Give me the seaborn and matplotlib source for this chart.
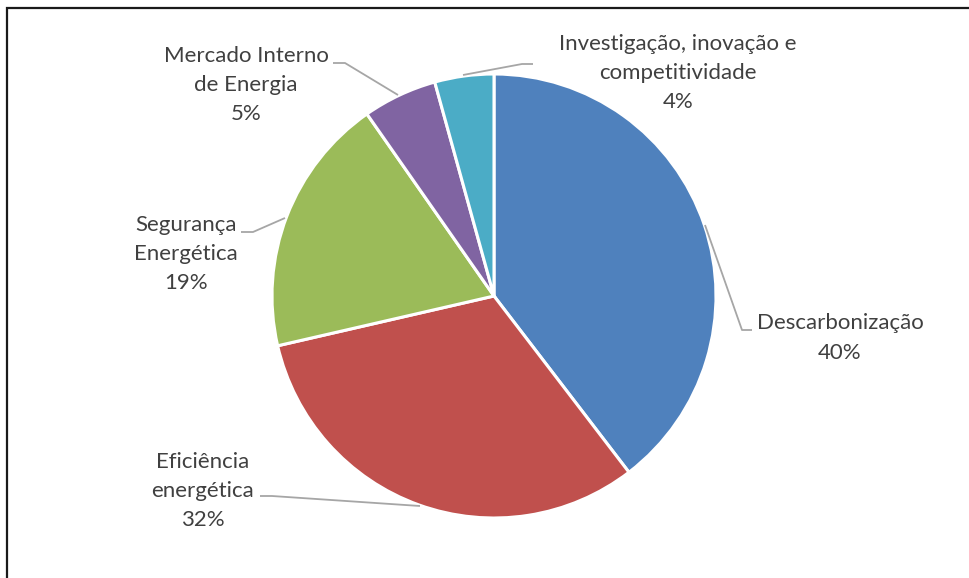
import matplotlib
matplotlib.use("Agg")
import matplotlib.pyplot as plt
import seaborn as sns
from matplotlib.patches import Rectangle

categories = ["Descarbonização", "Eficiência energética", "Segurança Energética",
              "Mercado Interno de Energia", "Investigação, inovação e competitividade"]
values = [39.6, 31.8, 18.9, 5.4, 4.3]
label_texts = ["Descarbonização\n40%", "Eficiência\nenergética\n32%", "Segurança\nEnergética\n19%",
               "Mercado Interno\nde Energia\n5%", "Investigação, inovação e\ncompetitividade\n4%"]
colors = ["#4F81BD", "#C0504D", "#9BBB59", "#8064A2", "#4BACC6"]

sns.set_theme(style="white")
plt.rcParams['font.family'] = ['Lato', 'DejaVu Sans']

W, H = 970, 578
CX, CY, R = 494, 296, 222

fig = plt.figure(figsize=(W / 100, H / 100), dpi=100)
ax = fig.add_axes([0, 0, 1, 1])

ax.pie(values, colors=colors, startangle=90, counterclock=False, radius=1.0,
       wedgeprops=dict(edgecolor="white", linewidth=2.2))

ax.set_xlim(-CX / R, (W - CX) / R)
ax.set_ylim(-(H - CY) / R, CY / R)
ax.set_aspect("equal")
ax.axis("off")


def d(px, py):
    return ((px - CX) / R, (CY - py) / R)


# label centers (pixel coords)
label_pos = [(840, 338), (203, 491), (186, 254), (246, 85), (678, 73)]
for txt, (px, py) in zip(label_texts, label_pos):
    x, y = d(px, py)
    ax.text(x, y, txt, ha="center", va="center", fontsize=16, color="#404040",
            linespacing=1.57)

leaders = [
    [(705, 225), (742, 330), (752, 330)],
    [(260, 496), (272, 496), (420, 506)],
    [(241, 232), (253, 232), (285, 218)],
    [(333, 63), (345, 63), (398, 95)],
    [(463, 75), (522, 64), (533, 64)],
]
for pts in leaders:
    xs, ys = zip(*[d(*p) for p in pts])
    ax.plot(xs, ys, color="#A6A6A6", lw=1.3, solid_capstyle="butt")

fig.patches.append(Rectangle((7 / W, -0.05), 1.1, 1 - 8 / H + 0.05,
                             transform=fig.transFigure, fill=False,
                             edgecolor="#1a1a1a", linewidth=1.6))

fig.savefig("out.png", dpi=100)
